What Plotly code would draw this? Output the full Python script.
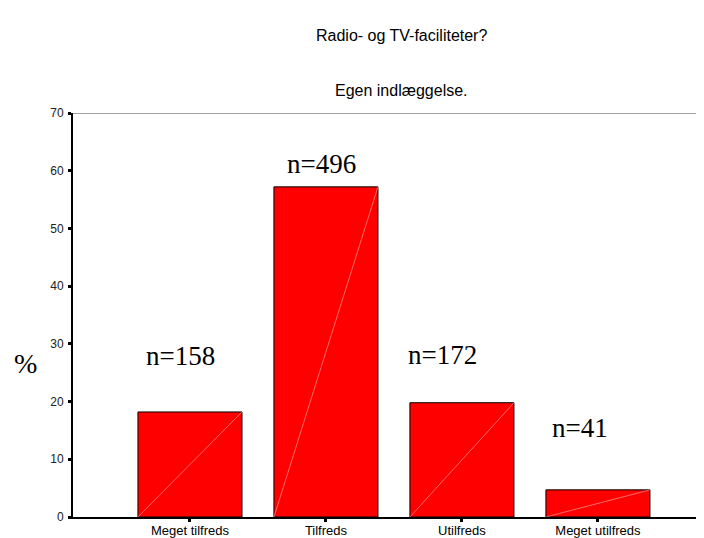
import plotly.graph_objects as go

categories = ["Meget tilfreds", "Tilfreds", "Utilfreds", "Meget utilfreds"]
percent = [18.2, 57.2, 19.8, 4.7]
counts = [158, 496, 172, 41]
label_x = [-0.07, 0.97, 1.86, 2.87]
label_y = [27.9, 61.2, 28.0, 15.4]
y_ticks = [0, 10, 20, 30, 40, 50, 60, 70]

bar_width = 0.765
xs = list(range(len(categories)))

fig = go.Figure()
fig.add_trace(go.Bar(
    x=xs, y=percent, width=bar_width,
    marker=dict(color="#ff0000", line=dict(color="black", width=1)),
    hoverinfo="skip",
))

# faint diagonal seams inside each bar (bottom-left to top-right)
for i, v in zip(xs, percent):
    fig.add_trace(go.Scatter(
        x=[i - bar_width / 2, i + bar_width / 2], y=[0, v],
        mode="lines", line=dict(color="rgba(255,190,190,0.8)", width=0.7),
        hoverinfo="skip",
    ))

for x, y, n in zip(label_x, label_y, counts):
    fig.add_annotation(
        x=x, y=y, text=f"n={n}", showarrow=False,
        font=dict(family="Liberation Serif", size=27, color="black"),
    )

fig.add_annotation(xref="paper", yref="paper", x=0.52, y=1, yshift=78,
                   yanchor="middle", text="Radio- og TV-faciliteter?", showarrow=False,
                   font=dict(family="Liberation Sans, Arial", size=16, color="black"))
fig.add_annotation(xref="paper", yref="paper", x=0.52, y=1, yshift=23,
                   yanchor="middle", text="Egen indlæggelse.", showarrow=False,
                   font=dict(family="Liberation Sans, Arial", size=16, color="black"))
fig.add_annotation(xref="paper", yref="paper", x=0, xshift=-48, xanchor="center",
                   y=0.38, yanchor="middle", text="%", showarrow=False,
                   font=dict(family="Liberation Serif", size=28, color="black"))

# thin top frame line
fig.add_shape(type="line", xref="paper", yref="y", x0=0, x1=1, y0=70, y1=70,
              line=dict(color="#444", width=1))

# page body keeps an 8px margin, so the figure is sized to fit inside it
fig.update_layout(
    width=696, height=530,
    margin=dict(l=65, r=0, t=105, b=21, autoexpand=False),
    plot_bgcolor="white", paper_bgcolor="white",
    showlegend=False,
    font=dict(family="Liberation Sans, Arial", color="black"),
    xaxis=dict(
        range=[-0.86, 3.78], tickvals=xs, ticktext=categories,
        showgrid=False, zeroline=False, automargin=False,
        showline=True, linecolor="black", linewidth=2,
        ticks="outside", ticklen=3, tickwidth=3, tickcolor="black",
        tickfont=dict(size=13), ticklabelstandoff=-3,
    ),
    yaxis=dict(
        range=[0, 70], tickvals=y_ticks,
        showgrid=False, zeroline=False, automargin=False,
        showline=True, linecolor="black", linewidth=2,
        ticks="outside", ticklen=3, tickwidth=3, tickcolor="black",
        tickfont=dict(size=12, color="#222"), ticklabelstandoff=2,
    ),
)

fig.write_html("out.html")
